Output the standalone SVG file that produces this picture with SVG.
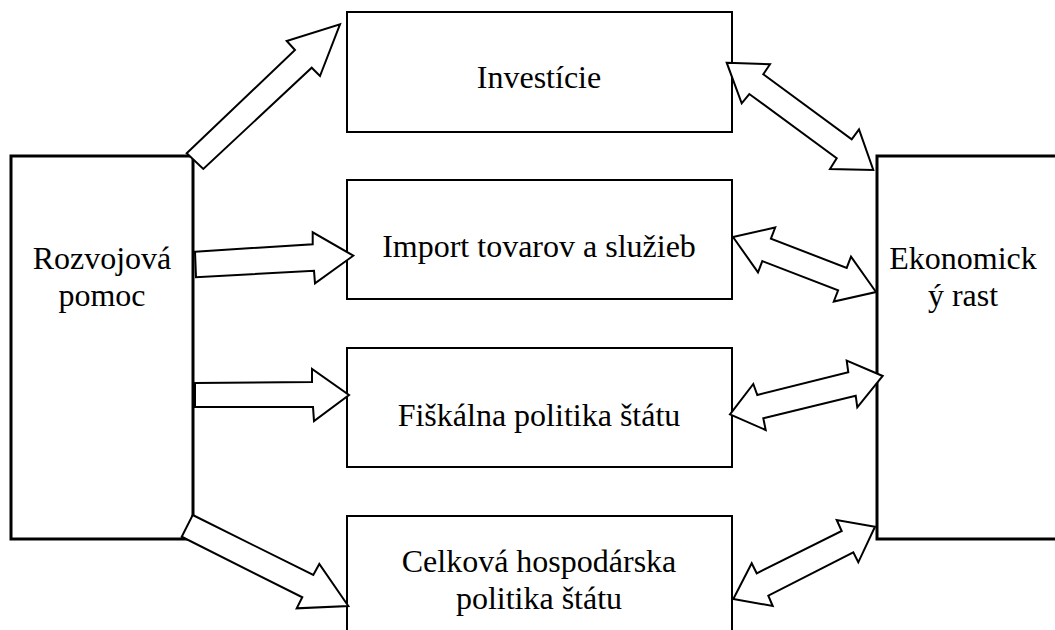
<svg xmlns="http://www.w3.org/2000/svg" width="1055" height="630" viewBox="0 0 1055 630">
<style>
.box{fill:#fff;stroke:#000;stroke-width:2}
.side{fill:#fff;stroke:#000;stroke-width:3}
.lbl{font-family:"Liberation Serif","Tinos","DejaVu Serif","Noto Serif",serif;font-size:32px;fill:#000;text-anchor:middle}
.arr{fill:#fff;stroke:#000;stroke-width:2;stroke-linejoin:miter}
</style>
<rect width="1055" height="630" fill="#fff"/>
<g id="node-rozvojova">
<rect class="side" x="11" y="156" width="182" height="383"/>
<text class="lbl" x="102" y="269" font-family="Liberation Serif">Rozvojová</text>
<text class="lbl" x="102" y="306" font-family="Liberation Serif">pomoc</text>
</g>
<g id="node-ekonomicky">
<rect class="side" x="877" y="156" width="200" height="383"/>
<text class="lbl" x="963" y="269">Ekonomick</text>
<text class="lbl" x="963" y="306">ý rast</text>
</g>
<g id="node-investicie">
<rect class="box" x="347" y="12" width="385" height="120"/>
<text class="lbl" x="539" y="88">Investície</text>
</g>
<g id="node-import">
<rect class="box" x="347" y="180" width="385" height="119"/>
<text class="lbl" x="539" y="257">Import tovarov a služieb</text>
</g>
<g id="node-fiskalna">
<rect class="box" x="347" y="348" width="385" height="119"/>
<text class="lbl" x="539" y="426">Fiškálna politika štátu</text>
</g>
<g id="node-celkova">
<rect class="box" x="347" y="516" width="385" height="130"/>
<text class="lbl" x="539" y="572">Celková hospodárska</text>
<text class="lbl" x="539" y="609">politika štátu</text>
</g>
<g id="connectors">
<polygon class="arr" points="186.7,153.3 295,50 286.7,41 340,24.3 320,76 311.7,67.7 203.3,169"/>
<polygon class="arr" points="195,251.7 312.7,244.3 312.7,232.3 353.3,255.7 315,283.3 314,270.7 196,277.3"/>
<polygon class="arr" points="195,383 312,382 312,369 349,395 314,421 313,407 195,407"/>
<polygon class="arr" points="192.7,515 313.3,575 319.3,564 348.3,606 296.7,608.3 302.3,597.3 181.7,536.7"/>
<polygon class="arr" points="726.7,62.7 770,64.3 763.3,74.3 851.7,139.3 859,129.3 873.3,170 830,169 836.7,158.3 749.3,94 741.7,103.3"/>
<polygon class="arr" points="733,237 775.2,227.5 770.9,238.7 846.7,267.9 851,256.7 876,292 833.8,301.5 838.1,290.3 762.3,261.1 758,272.3"/>
<polygon class="arr" points="730,414.3 753.3,384 757.3,395 848.3,372.3 846.7,360.7 882.7,376 857.3,407.3 855.7,395.7 763.3,418.3 765.7,430"/>
<polygon class="arr" points="875,526.7 836.7,520 841.7,531 756.7,573.3 751.7,563.3 733.3,599 772.7,606 768.3,595.7 853.3,552.3 858.3,562.3"/>
</g>
</svg>
